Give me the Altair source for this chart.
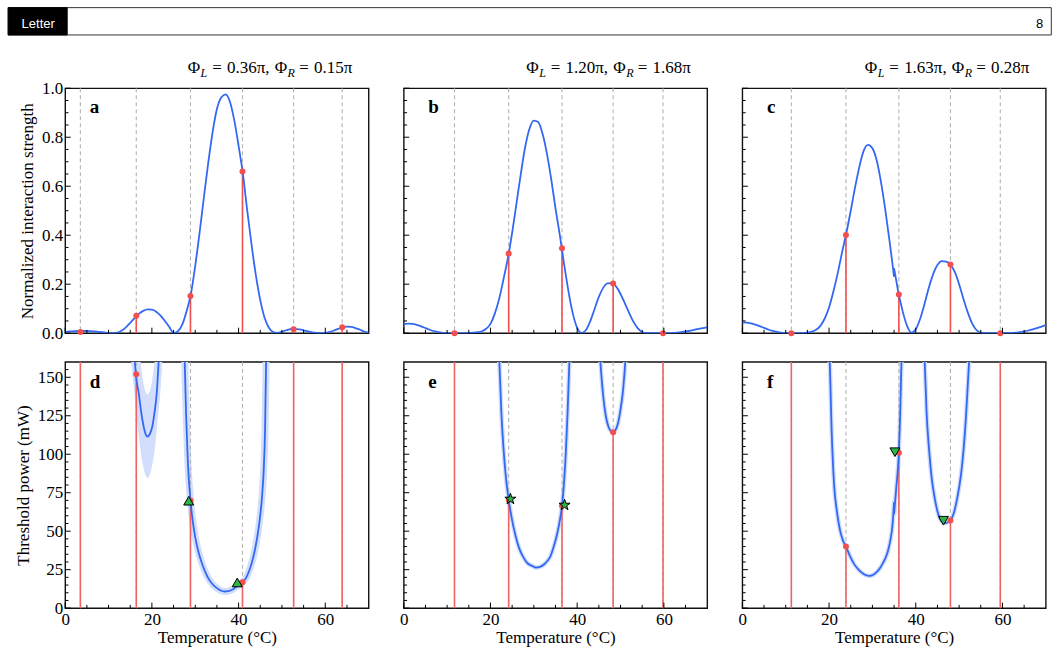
import altair as alt
import pandas as pd

# ------------------------------------------------------------------ data
T_GRID = list(range(71))

STRENGTH_A = [0.005, 0.007, 0.008, 0.009, 0.009, 0.009, 0.008, 0.007, 0.005, 0.003,
              0.001, 0.000, 0.002, 0.010, 0.024, 0.042, 0.062, 0.079, 0.091, 0.097,
              0.096, 0.088, 0.072, 0.050, 0.026, 0.001, 0.008, 0.035, 0.090, 0.160,
              0.275, 0.410, 0.555, 0.695, 0.820, 0.915, 0.962, 0.975, 0.945, 0.870,
              0.765, 0.650, 0.500, 0.360, 0.235, 0.135, 0.063, 0.022, 0.004, 0.001,
              0.006, 0.012, 0.017, 0.018, 0.016, 0.012, 0.007, 0.003, 0.001, 0.000,
              0.001, 0.005, 0.011, 0.018, 0.024, 0.027, 0.026, 0.021, 0.014, 0.007,
              0.002]

STRENGTH_B = [0.037, 0.039, 0.038, 0.034, 0.028, 0.021, 0.014, 0.008, 0.004, 0.001,
              0.000, 0.000, 0.000, 0.000, 0.000, 0.001, 0.002, 0.004, 0.008, 0.018,
              0.038, 0.080, 0.140, 0.220, 0.305, 0.410, 0.530, 0.650, 0.760, 0.835,
              0.868, 0.862, 0.815, 0.735, 0.630, 0.510, 0.400, 0.280, 0.170, 0.080,
              0.022, 0.001, 0.012, 0.048, 0.098, 0.148, 0.185, 0.203, 0.204, 0.190,
              0.160, 0.122, 0.082, 0.046, 0.020, 0.005, 0.000, 0.000, 0.000, 0.000,
              0.000, 0.000, 0.001, 0.002, 0.004, 0.007, 0.010, 0.014, 0.018, 0.021,
              0.024]

C_T_LEFT = list(range(36))
C_S_LEFT = [0.044, 0.043, 0.040, 0.035, 0.029, 0.022, 0.015, 0.009, 0.005, 0.002,
            0.000, 0.000, 0.000, 0.000, 0.000, 0.002, 0.006, 0.014, 0.030, 0.060,
            0.105, 0.170, 0.245, 0.330, 0.410, 0.500, 0.595, 0.680, 0.745, 0.769,
            0.755, 0.705, 0.615, 0.500, 0.370, 0.231]
C_T_RIGHT = [35, 35.5, 36, 36.5, 37] + list(range(38, 71))
C_S_RIGHT = [0.264, 0.215, 0.165, 0.125, 0.088,
             0.030, 0.002, 0.016, 0.058, 0.118, 0.185, 0.240, 0.278, 0.294, 0.292,
             0.280, 0.250, 0.200, 0.140, 0.085, 0.040, 0.013, 0.002, 0.000, 0.000,
             0.000, 0.000, 0.000, 0.000, 0.001, 0.002, 0.004, 0.007, 0.011, 0.016,
             0.021, 0.027, 0.033]

# resonance temperatures, interaction strengths and threshold powers (None = off scale)
RES_A_T = [3.5, 16.4, 28.9, 40.9, 52.7, 63.9]
RES_A_S = [0.005, 0.071, 0.152, 0.660, 0.016, 0.024]
RES_D_P = [None, 152, 70, 16.8, None, None]

RES_B_T = [11.7, 24.2, 36.5, 48.3, 59.8]
RES_B_S = [0.0, 0.325, 0.347, 0.203, 0.0]
RES_E_P = [None, 70.5, 66.5, 114.3, None]

RES_C_T = [11.3, 23.9, 36.1, 48.0, 59.5]
RES_C_S = [0.0, 0.401, 0.158, 0.280, 0.0]
RES_F_P = [None, 40, 101, 57, None]

# threshold power branches
D1_T = [16.0, 16.3, 17.0, 17.6, 18.1, 18.5, 19.0, 19.5, 20.1, 20.6, 21.1, 21.6]
D1_P = [163, 152, 139, 126, 118, 113.5, 111.5, 113, 118, 127, 139, 162]
D1_BAND_T = [15.3, 16.0, 16.7, 17.4, 18.0, 18.5, 19.0, 19.5, 20.0, 20.6, 21.2, 21.8, 22.4]
D1_BAND_LO = [160, 138, 118, 102, 92, 86.5, 84.5, 86.5, 92, 102, 118, 138, 160]
D1_BAND_HI = [160, 180, 180, 160, 147, 141, 139, 141, 147, 160, 180, 180, 160]
D2_T = [27.5, 27.9, 28.3, 28.9, 29.5, 30.0, 30.7, 31.5, 32.3, 33.0, 34.0, 35.0, 36.0,
        36.8, 37.6, 38.5, 39.3, 40.1, 40.9, 41.7, 42.4, 43.0, 43.7, 44.3, 44.9, 45.4,
        45.8, 46.1, 46.35, 46.45]
D2_P = [168, 125, 95, 70, 55, 46, 37, 29.5, 23.5, 19.5, 15.5, 13, 11.3,
        10.8, 11.0, 12.0, 13.5, 15.0, 16.8, 19.5, 24, 29, 37, 46, 58, 72,
        90, 115, 160, 172]

E1_T = [21.9, 22.05, 22.5, 23.05, 23.6, 24.2, 25.0, 25.7, 26.6, 27.6, 28.6, 29.6, 30.5,
        31.4, 32.4, 33.2, 33.8, 34.6, 35.4, 36.0, 36.5, 37.0, 37.4, 37.8, 38.2, 38.35]
E1_P = [168, 160, 128, 102, 84, 70.5, 57, 48, 39, 33, 29, 27.5, 26.4,
        26.8, 28.5, 31, 33.5, 40, 48.5, 57, 66.5, 83, 102, 128, 160, 170]
E2_T = [45.2, 45.35, 46.0, 46.6, 47.2, 47.8, 48.3, 48.8, 49.4, 50.0, 50.6, 51.1, 51.25]
E2_P = [166, 160, 138, 125, 118, 115, 114.3, 115.5, 120, 129, 142, 160, 167]

F1_T_LEFT = [20.0, 20.15, 20.6, 21.15, 21.8, 22.5, 23.2, 23.9, 24.8, 25.8, 26.8, 27.8,
             28.5, 29.2, 29.9, 30.6, 31.5, 32.3, 33.0, 33.6, 34.2, 34.6, 35.0]
F1_P_LEFT = [168, 160, 115, 80.6, 63, 51, 44, 40, 34, 28.6, 25, 22.5,
             21.4, 21, 21.3, 22.5, 25, 28.6, 32.5, 37.3, 45, 53, 68.7]
F1_T_RIGHT = [35.0, 35.5, 36.1, 36.4, 36.7, 36.85]
F1_P_RIGHT = [61.1, 78, 101, 125, 160, 170]
F2_T = [41.9, 42.06, 42.5, 43.1, 43.7, 44.4, 45.0, 45.6, 46.2, 46.8, 47.4, 48.0, 48.8,
        49.6, 50.4, 51.0, 51.6, 52.1, 52.3, 52.45]
F2_P = [168, 160, 127, 102, 84, 71, 63, 58, 55.6, 55.3, 55.8, 57, 62,
        72, 86, 102, 125, 150, 160, 168]

# measured points (green markers)
MK_D_T = [28.5, 39.7]
MK_D_P = [69.8, 16.7]
MK_E_T = [24.6, 37.1]
MK_E_P = [70.9, 67.0]
MK_F_T = [35.2, 46.4]
MK_F_P = [101.3, 56.8]

# axes
X_DOMAIN = [0, 70]
S_DOMAIN = [0, 1.0]
P_DOMAIN = [0, 160]
X_MAJOR = [0, 20, 40, 60]
X_MINOR = [5, 10, 15, 25, 30, 35, 45, 50, 55, 65]
S_MAJOR = [0.0, 0.2, 0.4, 0.6, 0.8, 1.0]
S_MINOR = [0.05, 0.1, 0.15, 0.25, 0.3, 0.35, 0.45, 0.5, 0.55, 0.65, 0.7, 0.75,
           0.85, 0.9, 0.95]
P_MAJOR = [0, 25, 50, 75, 100, 125, 150]
P_MINOR = [5, 10, 15, 20, 30, 35, 40, 45, 55, 60, 65, 70, 80, 85, 90, 95,
           105, 110, 115, 120, 130, 135, 140, 145, 155]

PANEL_LETTERS = ["a", "b", "c", "d", "e", "f"]
TITLE_VALUES = [("0.36π,", "0.15π"), ("1.20π,", "1.68π"), ("1.63π,", "0.28π")]

# ------------------------------------------------------------------ style
W = 303.5
H_TOP = 245
H_BOT = 246.3
FONT = "Liberation Serif"
BLUE = "#3369f2"
BAND = "#d2defb"
RED = "#f24f4f"
RED_B = "#f06464"
GRAY = "#b4b4b4"
GREEN = "#2db548"
STAR = ("M0,-1L0.2245,-0.309L0.951,-0.309L0.363,0.118L0.588,0.809L0,0.382"
        "L-0.588,0.809L-0.363,0.118L-0.951,-0.309L-0.2245,-0.309Z")

DUMMY = pd.DataFrame({"k": [0]})


def xenc(show):
    ax = None
    if show:
        ax = alt.Axis(values=X_MAJOR, title="Temperature (°C)", ticks=False, tickSize=0,
                      domain=False, grid=False, labelPadding=3, titlePadding=2,
                      labelFont=FONT, labelFontSize=17, titleFont=FONT, titleFontSize=17,
                      titleFontWeight="normal", labelColor="black", titleColor="black",
                      labelFlush=False)
    return alt.X("T:Q", scale=alt.Scale(domain=X_DOMAIN, nice=False, zero=False), axis=ax)


def yenc(domain, show, title, values, fmt):
    ax = None
    if show:
        ax = alt.Axis(values=values, title=title, format=fmt, ticks=False, tickSize=0,
                      domain=False, grid=False, labelPadding=2.5, titlePadding=5,
                      labelFont=FONT, labelFontSize=17, titleFont=FONT, titleFontSize=17,
                      titleFontWeight="normal", labelColor="black", titleColor="black",
                      labelFlush=False)
    return alt.Y("v:Q", scale=alt.Scale(domain=domain, nice=False, zero=False), axis=ax)


def tick_layers(H, ymaj, ymin, X, Y):
    out = []
    for vals, ln in ((X_MAJOR, 5.5), (X_MINOR, 3.3)):
        out.append(alt.Chart(pd.DataFrame({"T": vals})).mark_rule(color="black", strokeWidth=1)
                   .encode(x=X, y=alt.value(H), y2=alt.value(H - ln)))
    for vals, ln in ((ymaj, 5.5), (ymin, 3.3)):
        out.append(alt.Chart(pd.DataFrame({"v": vals})).mark_rule(color="black", strokeWidth=1)
                   .encode(y=Y, x=alt.value(0), x2=alt.value(ln)))
    return out


def text_layer(txt, x, y, size, color="black", weight="normal", style="normal",
               font=FONT, align="left"):
    return alt.Chart(DUMMY).mark_text(text=txt, font=font, fontSize=size, color=color,
                                      fontWeight=weight, fontStyle=style, align=align,
                                      baseline="alphabetic").encode(
        x=alt.value(x), y=alt.value(y))


def line_df(pieces):
    rows = []
    for name, ts, vs in pieces:
        for i, (t, v) in enumerate(zip(ts, vs)):
            rows.append({"T": t, "v": v, "piece": name, "ord": i})
    return pd.DataFrame(rows)


def top_panel(i, res_t, res_s, pieces):
    X = xenc(False)
    Y = yenc(S_DOMAIN, i == 0, "Normalized interaction strength", S_MAJOR, ".1f")
    res = pd.DataFrame({"T": res_t, "v": res_s})
    layers = [
        alt.Chart(res).mark_rule(color=GRAY, strokeDash=[4, 3], strokeWidth=1.1)
        .encode(x=X, y=alt.value(0), y2=alt.value(H_TOP)),
        alt.Chart(res).mark_rule(color=RED, strokeWidth=1.6)
        .encode(x=X, y=Y, y2=alt.datum(0)),
        alt.Chart(line_df(pieces)).mark_line(color=BLUE, strokeWidth=1.8,
                                             interpolate="monotone", clip=True)
        .encode(x=X, y=Y, detail="piece:N", order="ord:Q"),
        alt.Chart(res).mark_circle(color=RED, size=36, opacity=1).encode(x=X, y=Y),
    ]
    layers += tick_layers(H_TOP, S_MAJOR, S_MINOR, X, Y)
    layers.append(text_layer(PANEL_LETTERS[i], 24.6, 24.6, 19, weight="bold"))
    # panel title  Φ_L = ..., Φ_R = ...
    l_txt, r_txt = TITLE_VALUES[i]
    x0, yb = 122.5, -15
    layers += [
        text_layer("Φ", x0, yb, 17),
        text_layer("L", x0 + 12.9, yb + 3.5, 12, style="italic"),
        text_layer("=", x0 + 24.5, yb, 17),
        text_layer(l_txt, x0 + 39.3, yb, 17),
        text_layer("Φ", x0 + 87, yb, 17),
        text_layer("R", x0 + 99.9, yb + 3.5, 12, style="italic"),
        text_layer("=", x0 + 111.5, yb, 17),
        text_layer(r_txt, x0 + 126.3, yb, 17),
    ]
    if i == 0:
        hdr = [
            alt.Chart(DUMMY).mark_rect(fill="white", stroke="#333333", strokeWidth=1)
            .encode(x=alt.value(-57), x2=alt.value(986.3), y=alt.value(-80.6), y2=alt.value(-53.3)),
            alt.Chart(DUMMY).mark_rect(fill="black", stroke="black", strokeWidth=1)
            .encode(x=alt.value(-57), x2=alt.value(2), y=alt.value(-80.6), y2=alt.value(-53.3)),
            text_layer("Letter", -27, -60.6, 13, color="white", font="Liberation Sans",
                       align="center"),
            text_layer("8", 974.5, -60.6, 13, font="Liberation Sans", align="center"),
        ]
        layers = hdr + layers
    return alt.layer(*layers).properties(width=W, height=H_TOP)


def bottom_panel(i, res_t, res_p, pieces, marker_t, marker_p, shape, halo, band=None):
    X = xenc(True)
    Y = yenc(P_DOMAIN, i == 3, "Threshold power (mW)", P_MAJOR, "d")
    stems = pd.DataFrame({"T": res_t,
                          "v": [P_DOMAIN[1] if p is None else p for p in res_p]})
    dots = pd.DataFrame({"T": [t for t, p in zip(res_t, res_p) if p is not None],
                         "v": [p for p in res_p if p is not None]})
    mk = pd.DataFrame({"T": marker_t, "v": marker_p})
    ldf = line_df(pieces)
    layers = []
    if band is not None:
        bt, blo, bhi = band
        layers.append(alt.Chart(pd.DataFrame({"T": bt, "v": blo, "hi": bhi}))
                      .mark_area(color=BAND, opacity=1, interpolate="monotone", clip=True)
                      .encode(x=X, y=Y, y2="hi:Q"))
    layers += [
        alt.Chart(ldf).mark_line(color=BAND, strokeWidth=halo, interpolate="monotone",
                                 clip=True, strokeCap="round")
        .encode(x=X, y=Y, detail="piece:N", order="ord:Q"),
        alt.Chart(stems).mark_rule(color=GRAY, strokeDash=[4, 3], strokeWidth=1.1)
        .encode(x=X, y=alt.value(0), y2=alt.value(H_BOT)),
        alt.Chart(stems).mark_rule(color=RED_B, strokeWidth=1.6, clip=True)
        .encode(x=X, y=Y, y2=alt.datum(0)),
        alt.Chart(ldf).mark_line(color=BLUE, strokeWidth=1.8, interpolate="monotone", clip=True)
        .encode(x=X, y=Y, detail="piece:N", order="ord:Q"),
        alt.Chart(dots).mark_circle(color=RED, size=36, opacity=1).encode(x=X, y=Y),
        alt.Chart(mk).mark_point(shape=shape, filled=True, fill=GREEN, stroke="black",
                                 strokeWidth=1, size=100 if shape != STAR else 135, opacity=1)
        .encode(x=X, y=Y),
    ]
    layers += tick_layers(H_BOT, P_MAJOR, P_MINOR, X, Y)
    layers.append(text_layer(PANEL_LETTERS[i], 24.6, 26.3, 19, weight="bold"))
    return alt.layer(*layers).properties(width=W, height=H_BOT)


pa = top_panel(0, RES_A_T, RES_A_S, [("a", T_GRID, STRENGTH_A)])
pb = top_panel(1, RES_B_T, RES_B_S, [("b", T_GRID, STRENGTH_B)])
pc = top_panel(2, RES_C_T, RES_C_S, [("c1", C_T_LEFT, C_S_LEFT),
                                     ("c2", [C_T_LEFT[-1], C_T_RIGHT[0]], [C_S_LEFT[-1], C_S_RIGHT[0]]),
                                     ("c3", C_T_RIGHT, C_S_RIGHT)])
pd_ = bottom_panel(3, RES_A_T, RES_D_P, [("d1", D1_T, D1_P), ("d2", D2_T, D2_P)],
                   MK_D_T, MK_D_P, "triangle-up", 7,
                   band=(D1_BAND_T, D1_BAND_LO, D1_BAND_HI))
pe = bottom_panel(4, RES_B_T, RES_E_P, [("e1", E1_T, E1_P), ("e2", E2_T, E2_P)],
                  MK_E_T, MK_E_P, STAR, 4.5)
pf = bottom_panel(5, RES_C_T, RES_F_P,
                  [("f1", F1_T_LEFT, F1_P_LEFT),
                   ("f2", [F1_T_LEFT[-1], F1_T_RIGHT[0]], [F1_P_LEFT[-1], F1_P_RIGHT[0]]),
                   ("f3", F1_T_RIGHT, F1_P_RIGHT), ("f4", F2_T, F2_P)],
                  MK_F_T, MK_F_P, "triangle-down", 4.5)

chart = alt.concat(pa, pb, pc, pd_, pe, pf, columns=3,
                   spacing={"row": 28.7, "column": 34.65}, bounds="flush").properties(
    padding={"left": 6.2, "top": 6.2, "right": 5, "bottom": 5},
    background="white",
).configure_view(stroke="#111111", strokeWidth=1.4)

chart.save("out.html", embed_options={"renderer": "svg", "actions": False})
